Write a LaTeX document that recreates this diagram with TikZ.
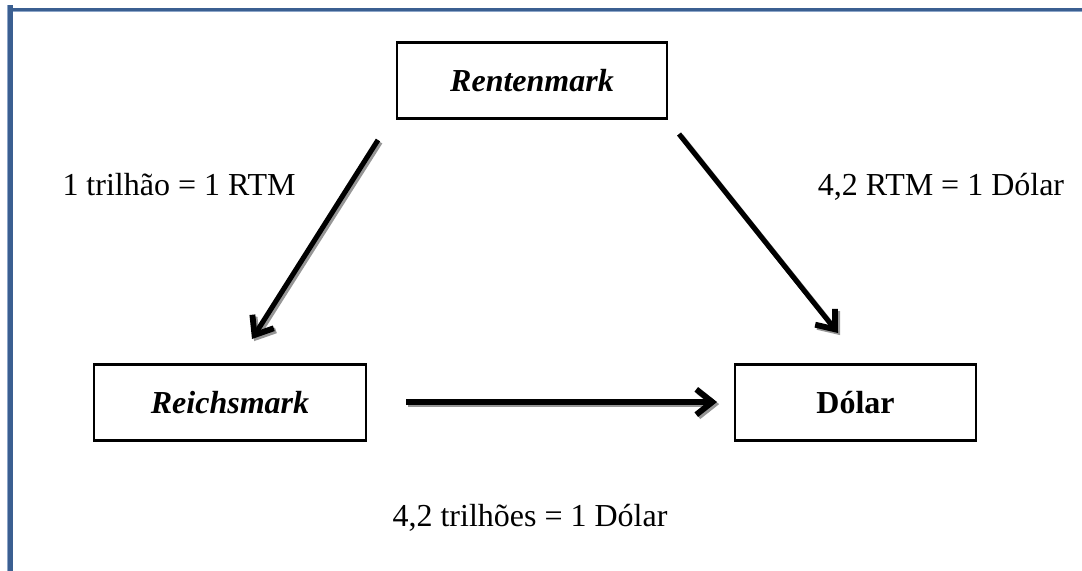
\documentclass[tikz,border=0pt]{standalone}
\usepackage{fontspec}
\setmainfont{Liberation Serif}
\usepackage{tikz}
\usetikzlibrary{arrows.meta}
\usetikzlibrary{positioning}

\definecolor{frameblue}{RGB}{59,95,145}
\definecolor{framelight}{RGB}{140,165,200}
\definecolor{shadowgray}{RGB}{150,150,150}

\tikzset{
  box/.style={draw, line width=1.6pt, inner sep=0pt, minimum height=57pt,
    font=\fontsize{24}{28}\selectfont},
  conn/.style={line width=3.8pt, line cap=butt,
    -{Straight Barb[length=12pt,width=19pt,line width=4.4pt]}},
  connshadow/.style={conn, draw=shadowgray,
    transform canvas={shift={(1.6pt,-1.6pt)}}},
  rate/.style={anchor=base, font=\fontsize{24}{28}\selectfont}
}

\begin{document}
\begin{tikzpicture}[x=0.75pt, y=-0.75pt]
        \useasboundingbox (0,0) rectangle (1082,571);

        % Frame
        \fill[framelight] (7,8) rectangle (1082,11.5);
        \fill[frameblue] (7,8) rectangle (1082,10.5);
        \fill[framelight] (7,5) rectangle (13,571);
        \fill[frameblue] (8,5) rectangle (13,571);

        % Boxes
        \node[box, minimum width=203pt] (rent) at (532,80.5) {\textbf{\textit{Rentenmark}}};
        \node[box, minimum width=204pt] (reich) at (230,402.5) {\textbf{\textit{Reichsmark}}};
        \node[box, minimum width=181pt] (dolar) at (855.5,402.5) {\textbf{Dólar}};

        % Arrow ends
        \coordinate (l1) at (378,140);
        \coordinate (l2) at (252,339);
        \coordinate (r1) at (679,134);
        \coordinate (r2) at (838,333);
        \coordinate (h1) at (406,402);
        \coordinate (h2) at (717,402);

        % Arrows (shadow first)
        \draw[connshadow] (l1) -- (l2);
        \draw[connshadow] (r1) -- (r2);
        \draw[connshadow] (h1) -- (h2);
        \draw[conn] (l1) -- (l2);
        \draw[conn] (r1) -- (r2);
        \draw[conn] (h1) -- (h2);

        % Rates
        \node[rate] (rate1) at (179,195) {1 trilhão = 1 RTM};
        \node[rate] (rate2) at (941,195) {4,2 RTM = 1 Dólar};
        \node[rate] (rate3) at (530,526) {4,2 trilhões = 1 Dólar};
\end{tikzpicture}
\end{document}
